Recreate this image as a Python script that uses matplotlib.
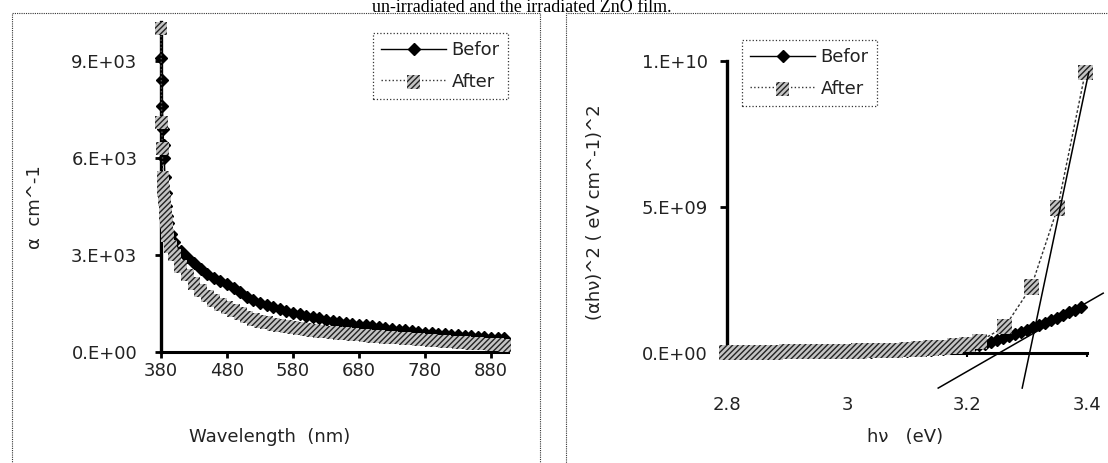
import matplotlib
matplotlib.use("Agg")
import matplotlib.pyplot as plt
from matplotlib.patches import Rectangle
from matplotlib.legend_handler import HandlerTuple

plt.rcParams['font.family'] = ['DejaVu Sans']
plt.rcParams['hatch.linewidth'] = 1.0

# ---- left panel: absorption coefficient vs wavelength ----
wl = [380, 381, 382, 383, 384, 385, 386, 387, 388, 389, 390, 395,
      400, 410, 420, 430, 440, 450, 460, 470, 480, 490, 500, 510, 520,
      530, 540, 550, 560, 570, 580, 590, 600, 610, 620, 630, 640, 650,
      660, 670, 680, 690, 700, 710, 720, 730, 740, 750, 760, 770, 780,
      790, 800, 810, 820, 830, 840, 850, 860, 870, 880, 890, 900]
alpha_before = [9100, 8400, 7600, 6900, 6400, 6000, 5400, 4900, 4500, 4200, 4000, 3650,
                3400, 3120, 2940, 2750, 2560, 2410, 2290, 2200, 2100, 1980, 1840, 1710, 1600,
                1520, 1460, 1400, 1340, 1280, 1220, 1160, 1120, 1080, 1040, 1000, 970, 940,
                910, 880, 850, 820, 790, 760, 736, 712, 688, 665, 643, 622, 602,
                584, 566, 548, 532, 516, 500, 485, 471, 457, 444, 432, 420]
alpha_after = [10000, 7100, 6300, 5400, 5000, 4700, 4400, 4240, 4000, 3800, 3600, 3250,
               3000, 2650, 2380, 2120, 1900, 1730, 1600, 1480, 1380, 1280, 1180, 1080, 1000,
               950, 900, 860, 820, 785, 750, 720, 690, 665, 640, 620, 600, 580,
               560, 542, 525, 507, 490, 475, 460, 445, 430, 415, 400, 385, 370,
               355, 340, 325, 310, 297, 285, 272, 260, 247, 235, 222, 210]
left_yticks = [0, 3000, 6000, 9000]
left_ylabels = ["0.E+00", "3.E+03", "6.E+03", "9.E+03"]
left_xticks = [380, 480, 580, 680, 780, 880]

# ---- right panel: Tauc plot ----
hv_before = [2.80, 2.82, 2.84, 2.86, 2.88, 2.90, 2.92, 2.94, 2.96, 2.98, 3.00,
             3.02, 3.04, 3.06, 3.08, 3.10, 3.12, 3.14, 3.16, 3.18, 3.20,
             3.21, 3.22, 3.23, 3.24, 3.25, 3.26, 3.27, 3.28, 3.29, 3.30,
             3.31, 3.32, 3.33, 3.34, 3.35, 3.36, 3.37, 3.38, 3.39]
tauc_before = [0.02, 0.02, 0.02, 0.02, 0.03, 0.03, 0.03, 0.03, 0.04, 0.04, 0.04,
               0.05, 0.05, 0.06, 0.07, 0.08, 0.09, 0.11, 0.13, 0.16, 0.20,
               0.24, 0.28, 0.32, 0.37, 0.43, 0.50, 0.57, 0.64, 0.72, 0.80,
               0.88, 0.96, 1.04, 1.12, 1.21, 1.30, 1.39, 1.48, 1.58]
hv_after = [2.80, 2.82, 2.84, 2.86, 2.88, 2.90, 2.92, 2.94, 2.96, 2.98, 3.00,
            3.02, 3.04, 3.06, 3.08, 3.10, 3.12, 3.14, 3.16, 3.18, 3.20,
            3.221, 3.263, 3.307, 3.351, 3.397]
tauc_after = [0.03, 0.03, 0.03, 0.03, 0.03, 0.04, 0.04, 0.04, 0.05, 0.05, 0.06,
              0.07, 0.08, 0.09, 0.10, 0.12, 0.14, 0.17, 0.20, 0.24, 0.30,
              0.40, 0.90, 2.26, 4.97, 9.60]
fit_before_x = [3.152, 3.427]
fit_before_y = [-1.2, 2.05]
fit_after_x = [3.292, 3.403]
fit_after_y = [-1.2, 9.62]
right_yticks = [0, 5, 10]
right_ylabels = ["0.E+00", "5.E+09", "1.E+10"]
right_xticks = [2.8, 3.0, 3.2, 3.4]
right_xlabels = ["2.8", "3", "3.2", "3.4"]

W, H = 1108, 463
fig = plt.figure(figsize=(W / 100, H / 100), dpi=100)

# panel frames
fig.patches.append(Rectangle((12 / W, -0.05), 528 / W, 1.05 - 13 / H, transform=fig.transFigure,
                             fill=False, ec='#333333', lw=0.8, ls=(0, (1, 1))))
fig.patches.append(Rectangle((566 / W, -0.05), 560 / W, 1.05 - 13 / H, transform=fig.transFigure,
                             fill=False, ec='#333333', lw=0.8, ls=(0, (1, 1))))

fig.text(522 / W, 1 - 12 / H, "un-irradiated and the irradiated ZnO film.",
         family='Liberation Serif', fontsize=13, ha='center', va='baseline')

TXT = '#222222'
HATCH_FC = '#c4c4c4'

# left
ax1 = fig.add_axes([161 / W, 111 / H, 346.5 / W, 330 / H])
ax1.plot(wl, alpha_before, color='black', lw=1, marker='D', ms=6,
         mfc='black', mec='black', clip_on=False, zorder=3)
ax1.plot(wl, alpha_after, color='#555555', lw=1, ls=':', clip_on=False, zorder=4)
ax1.scatter(wl, alpha_after, marker='s', s=85, facecolor=HATCH_FC, edgecolor='#222222',
            linewidths=0, hatch='//////', clip_on=False, zorder=5)
ax1.set_xlim(380, 905)
ax1.set_ylim(0, 10200)
ax1.set_xticks(left_xticks)
ax1.set_xticklabels([str(v) for v in left_xticks])
ax1.set_yticks(left_yticks)
ax1.set_yticklabels(left_ylabels)
ax1.tick_params(axis='y', length=4, width=2, pad=13, labelsize=13, labelcolor=TXT)
ax1.tick_params(axis='x', length=4, width=2, pad=3, labelsize=13, labelcolor=TXT)
ax1.set_xlabel("Wavelength  (nm)", fontsize=13, color=TXT, va='center')
ax1.xaxis.set_label_coords((270 - 161) / 346.5, (352 - 437) / 330)
ax1.set_ylabel("α  cm^-1", fontsize=13, color=TXT, va='center')
ax1.yaxis.set_label_coords((35 - 161) / 346.5, (352 - 207) / 330)

# right
ax2 = fig.add_axes([727 / W, 72 / H, 360 / W, 330 / H])
ax2.spines['bottom'].set_position(('data', 0))
ax2.plot(hv_before, tauc_before, color='black', lw=1, marker='D', ms=6,
         mfc='black', mec='black', clip_on=False, zorder=3)
ax2.plot(hv_after, tauc_after, color='#333333', lw=1, ls=(0, (2, 1.5)), clip_on=False, zorder=4)
ax2.scatter(hv_after, tauc_after, marker='s', s=120, facecolor=HATCH_FC, edgecolor='#222222',
            linewidths=0, hatch='//////', clip_on=False, zorder=5)
ax2.plot(fit_before_x, fit_before_y, color='black', lw=1.1, clip_on=False, zorder=6)
ax2.plot(fit_after_x, fit_after_y, color='black', lw=1.1, clip_on=False, zorder=6)
ax2.set_xlim(2.8, 3.4)
ax2.set_ylim(-1.3, 10)
ax2.set_xticks(right_xticks)
ax2.set_xticklabels(right_xlabels)
ax2.set_yticks(right_yticks)
ax2.set_yticklabels(right_ylabels)
ax2.spines['left'].set_bounds(0, 10)
ax2.tick_params(axis='y', length=5, width=2, pad=9, labelsize=13, labelcolor=TXT)
ax2.tick_params(axis='x', length=3, width=1.5, pad=28, labelsize=13, labelcolor=TXT)
ax2.set_xlabel("hν   (eV)", fontsize=13, color=TXT, va='center')
ax2.xaxis.set_label_coords((905 - 727) / 360, (391 - 437) / 330)
ax2.set_ylabel("(αhν)^2 ( eV cm^-1)^2", fontsize=13, color=TXT, va='center')
ax2.yaxis.set_label_coords((595 - 727) / 360, (391 - 212) / 330)

for ax in (ax1, ax2):
    ax.spines['top'].set_visible(False)
    ax.spines['right'].set_visible(False)
    ax.spines['left'].set_linewidth(2.4)
    ax.spines['bottom'].set_linewidth(2.2)
    ax.set_facecolor('none')

# legends
def add_legend(ax, x0, y0):
    lb = plt.Line2D([], [], color='black', lw=1, marker='D', ms=6, mfc='black', mec='black')
    la_line = plt.Line2D([], [], color='#333333', lw=1, ls=':')
    la_mark = ax.scatter([], [], marker='s', s=90, facecolor=HATCH_FC, edgecolor='#222222',
                         linewidths=0, hatch='//////')
    leg = ax.legend([lb, (la_line, la_mark)], ["Befor", "After"],
                    handler_map={tuple: HandlerTuple(ndivide=1)},
                    loc='upper left', bbox_to_anchor=(x0 / W, 1 - y0 / H),
                    bbox_transform=fig.transFigure, borderaxespad=0, fontsize=13,
                    fancybox=False, framealpha=1, edgecolor='#333333',
                    handlelength=3.6, handletextpad=0.3, labelspacing=0.75,
                    borderpad=0.45)
    leg.get_frame().set_linestyle(':')
    leg.get_frame().set_linewidth(0.9)
    for t in leg.get_texts():
        t.set_color(TXT)

add_legend(ax1, 373, 33)
add_legend(ax2, 742, 40)

fig.savefig("out.png", dpi=100)
